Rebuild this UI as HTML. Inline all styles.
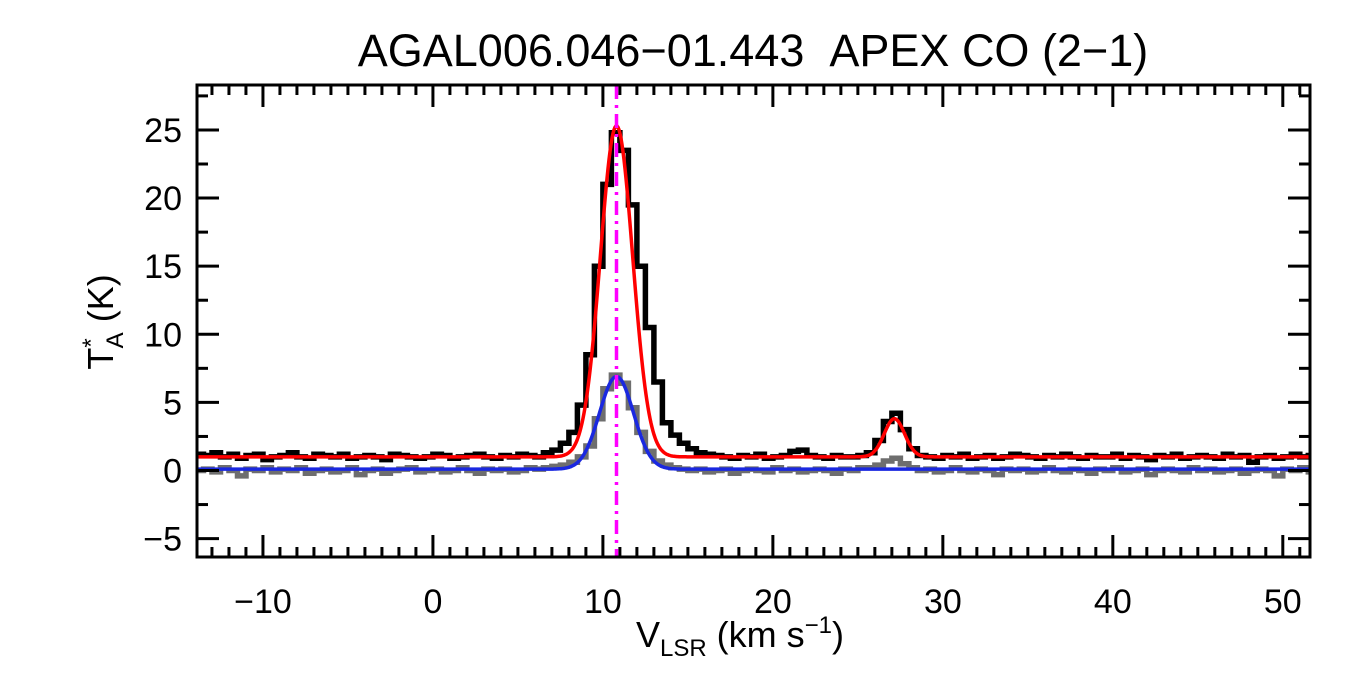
<!DOCTYPE html>
<html><head><meta charset="utf-8"><style>
html,body{margin:0;padding:0;background:#fff;}
svg{display:block;font-family:"Liberation Sans",Arial,sans-serif;}
</style></head><body>
<svg id="chart" width="1350" height="675" xmlns="http://www.w3.org/2000/svg">
<text x="753" y="66" font-size="45" text-anchor="middle">AGAL006.046−01.443&#160;&#160;APEX CO (2−1)</text>
<g id="plot"></g>
<g id="axes"></g>
<text x="740" y="647" font-size="36" text-anchor="middle">V<tspan font-size="24" dy="9">LSR</tspan><tspan dy="-9"> (km s</tspan><tspan font-size="24" dy="-14">−1</tspan><tspan dy="14">)</tspan></text>
<text transform="translate(113,322) rotate(-90)" font-size="36" text-anchor="middle">T<tspan font-size="24" dy="-14">*</tspan><tspan font-size="24" dx="-10" dy="24">A</tspan><tspan dy="-10"> (K)</tspan></text>
</svg>
<script>
const chanStart = -14.0;
const chanWidth = 0.5;
const blackData = [1.2,1.1,1.3,1.0,1.2,0.9,1.1,1.2,0.8,1.0,1.1,1.3,1.0,0.9,1.2,1.1,1.0,1.2,0.9,1.0,1.1,1.0,0.8,1.2,1.1,1.0,0.9,1.0,1.2,1.1,0.9,1.0,1.1,1.2,1.0,0.9,1.1,1.0,1.2,1.1,1.0,
1.3,1.5,2.0,2.8,4.8,8.5,15,21,24.8,23.5,19.5,15,10.5,6.5,3.5,2.6,2.0,1.6,1.3,1.2,
1.1,1.0,0.9,1.1,1.0,1.2,0.9,1.0,1.1,1.4,1.5,1.1,1.0,0.9,1.1,1.0,1.0,1.1,
1.3,2.2,3.6,4.2,3.0,1.6,1.1,
1.0,0.9,1.1,1.0,1.2,0.9,1.0,1.1,0.9,1.0,1.2,1.1,1.0,0.9,1.1,1.0,1.2,1.0,0.9,1.1,1.0,1.0,1.2,0.9,1.1,1.0,0.8,1.1,1.0,1.2,0.9,1.0,1.1,1.0,0.9,1.2,1.0,1.1,0.6,1.0,1.1,0.9,1.0,1.2,1.0,1.1];
const greyData = [0.0,0.1,-0.1,0.2,0.0,-0.4,0.1,0.0,0.2,-0.1,0.1,0.0,0.2,-0.2,0.0,0.1,-0.1,0.0,0.2,-0.3,0.0,0.1,-0.2,0.0,0.1,0.2,-0.1,0.0,0.1,-0.1,0.0,0.2,0.0,-0.2,0.1,0.0,0.1,-0.1,0.0,0.2,0.1,
0.2,0.3,0.4,0.6,1.0,1.8,3.8,6.0,7.0,6.4,4.6,2.8,1.4,0.7,0.4,0.2,0.1,0.0,0.1,-0.1,
0.0,0.1,-0.2,0.0,0.1,0.0,-0.1,0.2,0.0,0.1,-0.1,0.0,0.1,0.0,-0.2,0.1,0.0,0.2,
0.2,0.4,0.7,0.9,0.5,0.2,0.0,
0.1,-0.1,0.0,0.2,0.0,-0.1,0.1,0.0,-0.3,0.1,0.0,0.1,-0.1,0.0,0.2,0.0,-0.1,0.1,0.0,-0.2,0.1,0.0,0.2,-0.1,0.0,0.1,-0.3,0.0,0.1,0.0,-0.1,0.2,0.0,0.1,-0.1,0.0,0.1,-0.2,0.0,0.1,0.0,-0.4,0.1,0.0,0.2,-0.1];
const redBase = 1.0;
const redAmps = [24.3, 2.8];
const redCenters = [10.8, 27.15];
const redSigmas = [0.95, 0.6];
const blueBase = 0.1;
const blueAmps = [6.8];
const blueCenters = [10.8];
const blueSigmas = [1.0];
const vlsr = 10.8;
const xTicks = [-10, 0, 10, 20, 30, 40, 50];
const yTicks = [-5, 0, 5, 10, 15, 20, 25];

const X0=197, X1=1310, Y0=85, Y1=557;
const xMin=-13.88, xMax=51.6, yMin=-6.35, yMax=28.3;
const sx = v => X0 + (v-xMin)/(xMax-xMin)*(X1-X0);
const sy = t => Y1 - (t-yMin)/(yMax-yMin)*(Y1-Y0);
const NS="http://www.w3.org/2000/svg";
const plot=document.getElementById('plot'), axes=document.getElementById('axes');
function mk(tag, attrs, parent){const e=document.createElementNS(NS,tag);for(const k in attrs)e.setAttribute(k,attrs[k]);parent.appendChild(e);return e;}

const defs=mk('defs',{},plot);
const cp=mk('clipPath',{id:'clip'},defs);
mk('rect',{x:X0,y:Y0,width:X1-X0,height:Y1-Y0},cp);
const g=mk('g',{'clip-path':'url(#clip)'},plot);

function stepPath(data){
  let d='';
  data.forEach((t,i)=>{const a=sx(chanStart+i*chanWidth), b=sx(chanStart+(i+1)*chanWidth), y=sy(t);
    d += (i===0?'M':'L')+a.toFixed(1)+','+y.toFixed(1)+' L'+b.toFixed(1)+','+y.toFixed(1)+' ';});
  return d;
}
function gaussPath(base, amps, cens, sigs){
  let d='';
  for(let px=X0;px<=X1;px+=1){const v=xMin+(px-X0)/(X1-X0)*(xMax-xMin);
    let t=base; for(let k=0;k<amps.length;k++) t+=amps[k]*Math.exp(-0.5*Math.pow((v-cens[k])/sigs[k],2));
    d+=(px===X0?'M':'L')+px+','+sy(t).toFixed(1)+' ';}
  return d;
}
const grey=mk('path',{d:stepPath(greyData),fill:'none',stroke:'#6e6e6e','stroke-width':5.5},g);


const black=mk('path',{d:stepPath(blackData),fill:'none',stroke:'#000','stroke-width':5.5},g);


const blue=mk('path',{d:gaussPath(blueBase,blueAmps,blueCenters,blueSigmas),fill:'none',stroke:'#1a28e0','stroke-width':3.5},g);


const red=mk('path',{d:gaussPath(redBase,redAmps,redCenters,redSigmas),fill:'none',stroke:'#ff0000','stroke-width':3.5},g);


const vl=mk('line',{x1:sx(vlsr),x2:sx(vlsr),y1:Y0,y2:Y1,stroke:'#ff00ff','stroke-width':3.5,'stroke-dasharray':'14,6,3,6'},g);



const fr=mk('rect',{x:X0,y:Y0,width:X1-X0,height:Y1-Y0,fill:'none',stroke:'#000','stroke-width':3},axes);


for(let v=Math.ceil(xMin); v<=xMax; v++){
  const major = v%10===0, L = major?22:10, x=sx(v);
  mk('line',{x1:x,x2:x,y1:Y1,y2:Y1-L,stroke:'#000','stroke-width':3},axes);
  mk('line',{x1:x,x2:x,y1:Y0,y2:Y0+L,stroke:'#000','stroke-width':3},axes);
}
xTicks.forEach(v=>{const t=mk('text',{x:sx(v),y:613,'font-size':34,'text-anchor':'middle'},axes);t.textContent=v<0?'−'+(-v):String(v);
  
  });
for(let k=Math.ceil(yMin/2.5); k*2.5<=yMax; k++){
  const t=k*2.5, major=(k%2===0), L=major?22:11, y=sy(t);
  mk('line',{x1:X0,x2:X0+L,y1:y,y2:y,stroke:'#000','stroke-width':3},axes);
  mk('line',{x1:X1,x2:X1-L,y1:y,y2:y,stroke:'#000','stroke-width':3},axes);
}
yTicks.forEach(t=>{const e=mk('text',{x:182,y:sy(t)+12,'font-size':34,'text-anchor':'end'},axes);e.textContent=t<0?'−'+(-t):String(t);
  
  });
</script>
</body></html>
